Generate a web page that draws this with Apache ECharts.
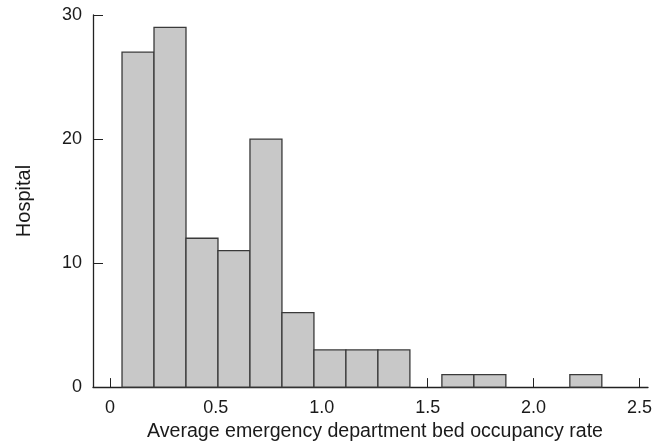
<!DOCTYPE html>
<html><head><meta charset="utf-8">
<script src="https://cdn.jsdelivr.net/npm/echarts@6/dist/echarts.min.js"></script>
<style>html,body{margin:0;padding:0;background:#fff}#c{width:660px;height:447px}</style>
</head><body><div id="c"></div>
<script>
var binStarts = [0.057, 0.208, 0.359, 0.510, 0.661, 0.812, 0.963, 1.114, 1.265, 1.416, 1.567, 1.718, 1.869, 2.020, 2.171];
var binWidth = 0.151;
var counts = [27, 29, 12, 11, 20, 6, 3, 3, 3, 0, 1, 1, 0, 0, 1];
var xTicks = [0, 0.5, 1.0, 1.5, 2.0, 2.5];
var yTicks = [0, 10, 20, 30];

var data = binStarts.map(function (s, i) { return [s, s + binWidth, counts[i]]; });
var font = '"Liberation Sans", Arial, sans-serif';
var chart = echarts.init(document.getElementById('c'));
chart.setOption({
  animation: false,
  grid: { left: 93, right: 12, top: 15, bottom: 59 },
  xAxis: {
    type: 'value', min: -0.08, max: 2.54,
    name: 'Average emergency department bed occupancy rate',
    nameLocation: 'middle', nameGap: 33,
    nameTextStyle: { color: '#1a1a1a', fontSize: 19.6, fontFamily: font, padding: [0, 0, 0, 9] },
    axisLine: { show: true, onZero: false, lineStyle: { color: '#222', width: 1.3 } },
    axisTick: { show: true, inside: true, length: 9, customValues: xTicks, lineStyle: { color: '#222', width: 1 } },
    axisLabel: { customValues: xTicks, margin: 12, color: '#1a1a1a', fontSize: 18, fontFamily: font,
      formatter: function (v) { return v === 0 ? '0' : v.toFixed(1); } },
    splitLine: { show: false }
  },
  yAxis: {
    type: 'value', min: 0, max: 30, interval: 10,
    name: 'Hospital', nameLocation: 'middle', nameGap: 59, nameRotate: 90,
    nameTextStyle: { color: '#1a1a1a', fontSize: 20, fontFamily: font },
    axisLine: { show: true, onZero: false, lineStyle: { color: '#222', width: 1.3 } },
    axisTick: { show: true, inside: true, length: 10, customValues: yTicks, lineStyle: { color: '#222', width: 1 } },
    axisLabel: { margin: 11, customValues: yTicks, color: '#1a1a1a', fontSize: 18, fontFamily: font },
    splitLine: { show: false }
  },
  series: [{
    type: 'custom',
    data: data,
    encode: { x: [0, 1], y: 2 },
    renderItem: function (params, api) {
      var v = api.value(2);
      if (!v) return null;
      var p0 = api.coord([api.value(0), 0]);
      var p1 = api.coord([api.value(1), v]);
      return {
        type: 'rect',
        shape: { x: p0[0], y: p1[1], width: p1[0] - p0[0], height: p0[1] - p1[1] },
        style: { fill: '#c8c8c8', stroke: '#3a3a3a', lineWidth: 1.3 }
      };
    }
  }]
});
</script></body></html>
